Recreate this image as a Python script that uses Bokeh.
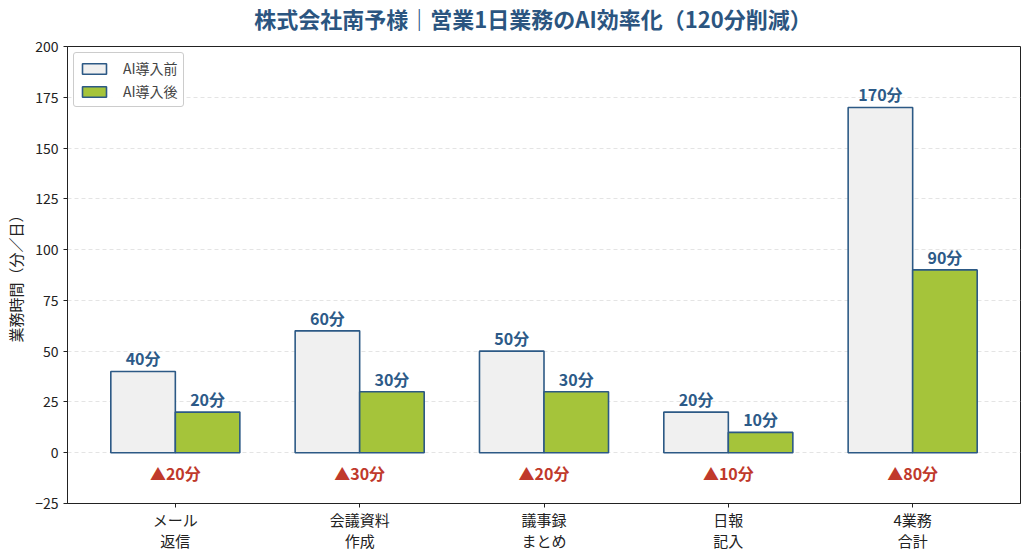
from bokeh.plotting import figure
from bokeh.models import ColumnDataSource, FixedTicker, Range1d, Legend, LegendItem, Div
from bokeh.layouts import column
from bokeh.transform import dodge
from bokeh.core.properties import value
from bokeh.embed import file_html
from bokeh.resources import INLINE

categories = ["メール\n返信", "会議資料\n作成", "議事録\nまとめ", "日報\n記入", "4業務\n合計"]
before = [40, 60, 50, 20, 170]
after = [20, 30, 30, 10, 90]
y_ticks = [-25, 0, 25, 50, 75, 100, 125, 150, 175, 200]
title_text = "株式会社南予様｜営業1日業務のAI効率化（120分削減）"
series_names = ["AI導入前", "AI導入後"]

FONT = "Noto Sans CJK JP"
EDGE = "#2c5985"
C_BEFORE = "#f0f0f0"
C_AFTER = "#a5c43a"
LABEL = "#2c5a88"
RED = "#c0392b"

xs = list(range(len(categories)))
src = ColumnDataSource(dict(
    x=xs,
    before=before,
    after=after,
    before_lbl=[f"{v}分" for v in before],
    after_lbl=[f"{v}分" for v in after],
    diff_lbl=[f"▲{b - a}分" for b, a in zip(before, after)],
    diff_y=[-10] * len(categories),
))

title_div = Div(text=title_text, width=1024, height=36,
                styles={"text-align": "center", "font-family": FONT, "font-size": "22px",
                        "font-weight": "bold", "color": "#2b5580", "line-height": "36px",
                        "padding-left": "42px", "box-sizing": "border-box", "margin": "0"})

p = figure(width=1024, height=517, output_backend="svg", toolbar_location=None,
           x_range=Range1d(-0.585, 4.585), y_range=Range1d(-25, 200),
           min_border_left=67, min_border_right=4, min_border_top=10, min_border_bottom=40)

W = 0.35
r1 = p.vbar(x=dodge("x", -W / 2, range=p.x_range), top="before", bottom=0, width=W, source=src,
            fill_color=C_BEFORE, line_color=EDGE, line_width=1.6)
r2 = p.vbar(x=dodge("x", W / 2, range=p.x_range), top="after", bottom=0, width=W, source=src,
            fill_color=C_AFTER, line_color=EDGE, line_width=1.6)

common = dict(text_font=value(FONT), text_font_size="16px", text_font_style="bold",
              text_align="center", text_baseline="bottom", source=src)
p.text(x=dodge("x", -W / 2, range=p.x_range), y="before", text="before_lbl", y_offset=-1,
       text_color=LABEL, **common)
p.text(x=dodge("x", W / 2, range=p.x_range), y="after", text="after_lbl", y_offset=-1,
       text_color=LABEL, **common)
p.text(x="x", y="diff_y", text="diff_lbl", text_color=RED,
       text_font=value(FONT), text_font_size="16px", text_font_style="bold",
       text_align="center", text_baseline="middle", source=src)

# axes
p.xaxis.ticker = FixedTicker(ticks=xs)
p.xaxis.major_label_overrides = {i: c for i, c in enumerate(categories)}
p.yaxis.ticker = FixedTicker(ticks=y_ticks)
for ax in (p.xaxis, p.yaxis):
    ax.major_label_text_font = FONT
    ax.major_label_text_color = "#222222"
    ax.axis_line_color = "#222222"
    ax.major_tick_line_color = "#222222"
    ax.major_tick_in = 0
    ax.major_tick_out = 4
    ax.minor_tick_line_color = None
p.xaxis.major_label_text_font_size = "15px"
p.yaxis.major_label_text_font_size = "14px"
p.xaxis.major_label_text_line_height = 1.0
p.xaxis.major_label_standoff = 1
p.yaxis.axis_label = "業務時間（分／日）"
p.yaxis.axis_label_text_font = FONT
p.yaxis.axis_label_text_font_size = "15px"
p.yaxis.axis_label_text_font_style = "normal"
p.yaxis.axis_label_text_color = "#222222"
p.yaxis.axis_label_standoff = 6

p.xgrid.grid_line_color = None
p.ygrid.grid_line_color = "#dddddd"
p.ygrid.grid_line_dash = "4 3"
p.ygrid.grid_line_width = 0.8
p.outline_line_color = "#222222"
p.outline_line_width = 1

legend = Legend(items=[LegendItem(label=series_names[0], renderers=[r1]),
                       LegendItem(label=series_names[1], renderers=[r2])],
                location="top_left")
legend.label_text_font = FONT
legend.label_text_font_size = "14px"
legend.glyph_width = 30
legend.glyph_height = 13
legend.label_height = 20
legend.label_standoff = 14
legend.border_line_color = "#cccccc"
legend.border_line_alpha = 1
legend.border_radius = 3
legend.padding = 5
legend.spacing = 3
legend.margin = 6
p.add_layout(legend)

layout = column(title_div, p, spacing=0)
open("out.html", "w").write(file_html(layout, INLINE))
